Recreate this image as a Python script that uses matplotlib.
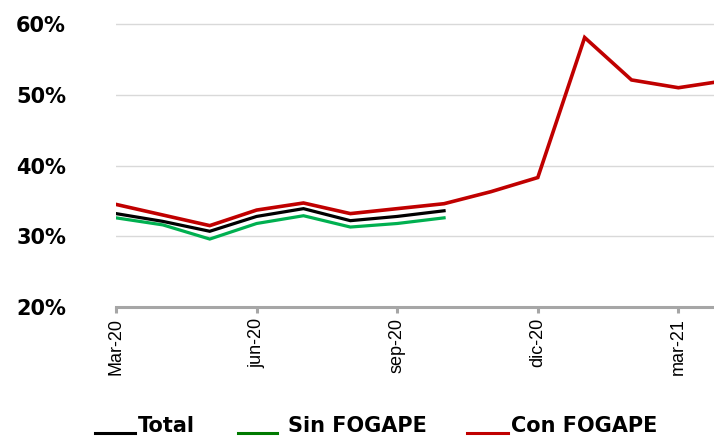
import numpy as np
import matplotlib.pyplot as plt
from matplotlib.lines import Line2D

# monthly ratios (%), Mar-20 .. Apr-21
months = ['Mar-20', 'abr-20', 'may-20', 'jun-20', 'jul-20', 'ago-20', 'sep-20',
          'oct-20', 'nov-20', 'dic-20', 'ene-21', 'feb-21', 'mar-21', 'abr-21']
con_fogape = [34.5, 33.0, 31.5, 33.7, 34.7, 33.2, 33.9, 34.6, 36.3, 38.3, 58.1, 52.1, 51.0, 52.0]
total = [33.2, 32.1, 30.7, 32.8, 33.9, 32.2, 32.8, 33.6]
sin_fogape = [32.6, 31.6, 29.6, 31.8, 32.9, 31.3, 31.8, 32.6]

tick_idx = [0, 3, 6, 9, 12]
tick_labels = ['Mar-20', 'jun-20', 'sep-20', 'dic-20', 'mar-21']
y_ticks = [20, 30, 40, 50, 60]

red = '#C00000'
green = '#00B050'

fig = plt.figure(figsize=(7.14, 4.36), dpi=100)
ax = fig.add_axes([0.1625, 0.296, 0.8375, 0.652])

x_all = np.arange(len(months))
ax.plot(x_all[:len(total)], total, color='black', lw=2.3, solid_joinstyle='miter', zorder=3)
ax.plot(x_all[:len(sin_fogape)], sin_fogape, color=green, lw=2.3, solid_joinstyle='miter', zorder=2)
ax.plot(x_all, con_fogape, color=red, lw=2.6, solid_joinstyle='miter', zorder=4)

ax.set_xlim(0, 12.76)
ax.set_ylim(20, 60.2)

# y axis
ax.set_yticks(y_ticks)
ax.set_yticklabels([f'{v}%' for v in y_ticks], fontsize=15, fontweight='bold', family='DejaVu Sans')
ax.tick_params(axis='y', length=0, pad=36)
for v in y_ticks[1:]:
    ax.axhline(v, color='#D9D9D9', lw=1.0, zorder=1)

# x axis
ax.set_xticks(tick_idx)
ax.set_xticklabels(tick_labels, rotation=90, fontsize=13, family='Liberation Sans')
ax.tick_params(axis='x', length=4, width=2.2, color='#A6A6A6', pad=4)

for s in ['left', 'top', 'right']:
    ax.spines[s].set_visible(False)
ax.spines['bottom'].set_color('#A6A6A6')
ax.spines['bottom'].set_linewidth(2.2)

# legend drawn by hand (lines sit on the text baseline)
leg = [(95, 135, 'black', 138, 'Total'),
       (238, 277, '#007A00', 288, 'Sin FOGAPE'),
       (467, 508, red, 511, 'Con FOGAPE')]
W, H = 714, 436
for x0, x1, c, tx, label in leg:
    fig.add_artist(Line2D([x0 / W, x1 / W], [1 - 433 / H, 1 - 433 / H], color=c, lw=2.2))
    fig.text(tx / W, 1 - 432 / H, label, fontsize=15, fontweight='bold',
             family='DejaVu Sans', va='baseline', ha='left')

fig.savefig('out.png', dpi=100)
